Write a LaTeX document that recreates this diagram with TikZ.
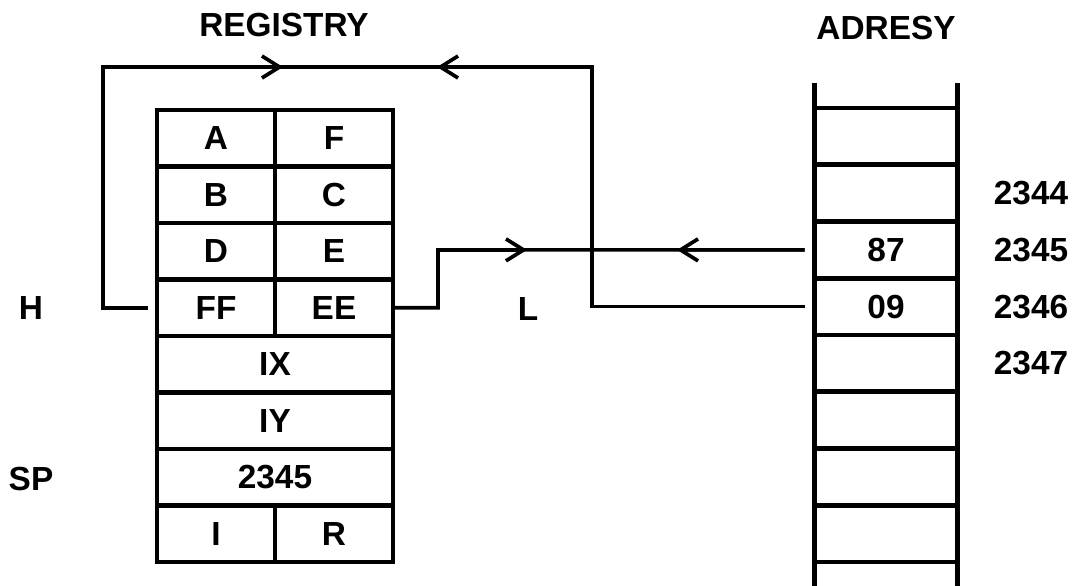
\documentclass[tikz,border=0pt]{standalone}
\usepackage{fontspec}
\setmainfont{Liberation Sans}
\usepackage{tikz}
\usetikzlibrary{arrows.meta, positioning}
\newcommand\regfont{\fontsize{19}{22}\selectfont\bfseries}

\begin{document}
\begin{tikzpicture}[
    x=0.02cm, y=-0.02cm,
    % Half-width register cell
    halfCell/.style={
        rectangle, draw=black, line width=2.8pt,
        minimum width=2.36cm, minimum height=1.13cm,
        inner sep=0pt, outer sep=0pt, font=\regfont
    },
    % Full-width register cell
    fullCell/.style={halfCell, minimum width=4.72cm},
    % Memory slot
    memCell/.style={
        rectangle, draw=black, line width=2.8pt,
        minimum width=2.86cm, minimum height=1.135cm,
        inner sep=0pt, outer sep=0pt, font=\regfont
    },
    memLine/.style={draw=black, line width=2.8pt},
    lbl/.style={font=\regfont, inner sep=0pt},
    wire/.style={draw=black, line width=2.1pt},
    tipArrow/.style={wire, -{Straight Barb[length=10pt, width=12.5pt]}}
]
\useasboundingbox (0,0) rectangle (1075,585);
% Headers
\node[lbl] (tReg) at (284,25) {REGISTRY};
\node[lbl] (tAdr) at (886,28) {ADRESY};
% ── Registers (left) ─────────────────────────────────────────
\node[halfCell] (rA) at (216,138.25) {A};
\node[halfCell] (rF) at (334,138.25) {F};
\node[halfCell] (rB) at (216,194.75) {B};
\node[halfCell] (rC) at (334,194.75) {C};
\node[halfCell] (rD) at (216,251.25) {D};
\node[halfCell] (rE) at (334,251.25) {E};
\node[halfCell] (rH) at (216,307.75) {FF};
\node[halfCell] (rL) at (334,307.75) {EE};
\node[fullCell] (rIX) at (275,364.25) {IX};
\node[fullCell] (rIY) at (275,420.75) {IY};
\node[fullCell] (rSP) at (275,477.25) {2345};
\node[halfCell] (rI) at (216,533.75) {I};
\node[halfCell] (rR) at (334,533.75) {R};
% Register names
\node[lbl] (lH) at (31,308) {H};
\node[lbl] (lL) at (528,309) {L};
\node[lbl] (lSP) at (31,479) {SP};
% ── Memory (right) ───────────────────────────────────────────
\foreach \adr/\val [count=\k from 0] in
    {2343/{},2344/{},2345/87,2346/09,2347/{},2348/{},2349/{},2350/{}}
    \node[memCell] (m\adr) at (886,136.375+56.75*\k) {\val};
\draw[memLine] (m2343.north west) -- +(0,-25);
\draw[memLine] (m2343.north east) -- +(0,-25);
\draw[memLine] (m2350.south west) -- +(0,25);
\draw[memLine] (m2350.south east) -- +(0,25);
% Addresses
\node[lbl] (a2344) at (1031,193.1) {2344};
\node[lbl] (a2345) at (1031,249.9) {2345};
\node[lbl] (a2346) at (1031,306.6) {2346};
\node[lbl] (a2347) at (1031,363.4) {2347};
% ── Exchange H <-> (SP+1) ────────────────────────────────────
\coordinate (hUp) at (103,67);
\coordinate (hOver) at (592,67);
\coordinate (hOut) at (283,67);
\coordinate (hIn) at (437,67);
\draw[wire, shorten <=5.7pt, shorten >=5.1pt]
    (m2346.west) -| (hOver) -- (hUp) |- (rH.west);
\draw[tipArrow] (hUp) -- (hOut);
\draw[tipArrow] (hOver) -- (hIn);
% ── Exchange L <-> (SP) ──────────────────────────────────────
\coordinate (lStep) at (438,249.9);
\coordinate (lOut) at (527,249.9);
\coordinate (lIn) at (677,249.9);
\draw[wire, shorten >=5.7pt] (rL.east) -| (lStep) -- (m2345.west);
\draw[tipArrow] (lStep) -- (lOut);
\draw[tipArrow, shorten <=5.7pt] (m2345.west) -- (lIn);
\end{tikzpicture}
\end{document}
